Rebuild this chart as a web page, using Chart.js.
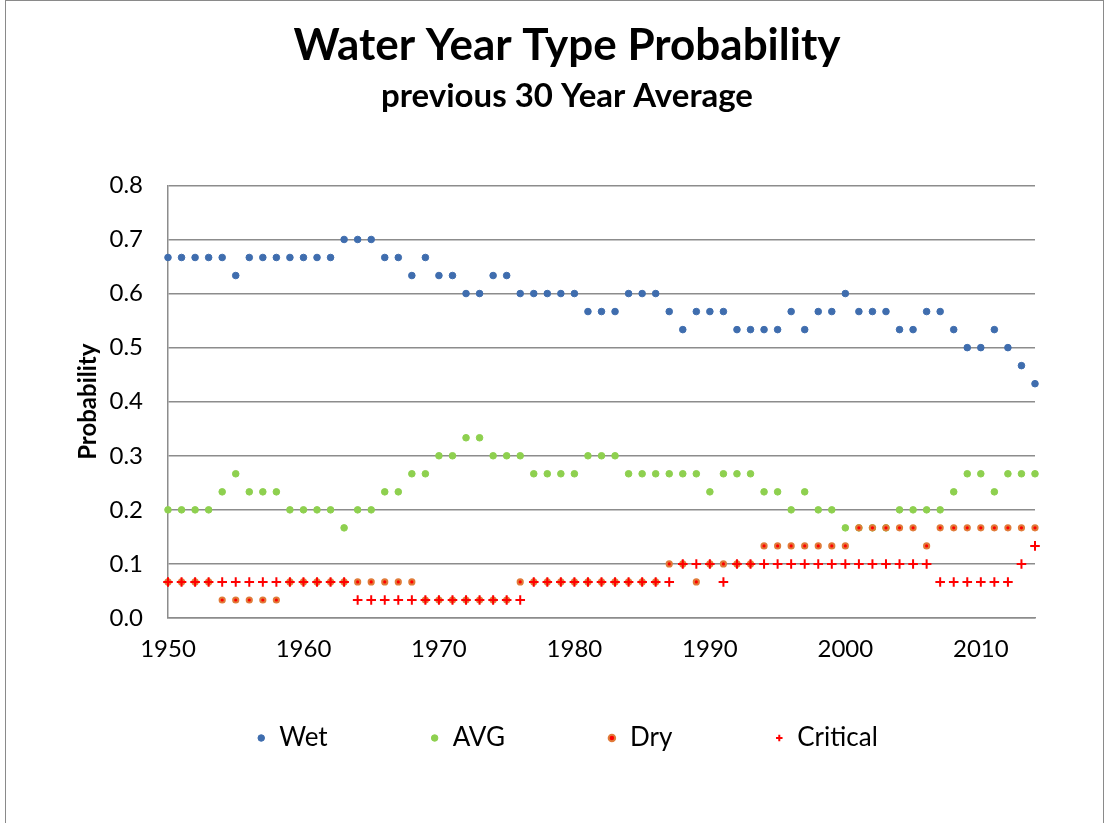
<!DOCTYPE html>
<html>
<head>
<meta charset="utf-8">
<script src="https://cdn.jsdelivr.net/npm/chart.js@4.4.1/dist/chart.umd.min.js"></script>
<style>
  html, body { margin: 0; padding: 0; background: #ffffff; overflow: hidden; }
  #wrap { position: absolute; left: 0; top: 0; width: 1110px; height: 823px; }
  #frame { position: absolute; left: 5px; top: 0px; width: 1099px; height: 900px;
           border-left: 1px solid #8a8a8a; border-right: 1px solid #8a8a8a; border-top: 1px solid #8a8a8a; box-sizing: border-box; pointer-events: none; }
</style>
</head>
<body>
<div id="wrap">
  <canvas id="c" width="1110" height="823"></canvas>
  <div id="frame"></div>
</div>
<script>
const years = [1950,1951,1952,1953,1954,1955,1956,1957,1958,1959,
               1960,1961,1962,1963,1964,1965,1966,1967,1968,1969,
               1970,1971,1972,1973,1974,1975,1976,1977,1978,1979,
               1980,1981,1982,1983,1984,1985,1986,1987,1988,1989,
               1990,1991,1992,1993,1994,1995,1996,1997,1998,1999,
               2000,2001,2002,2003,2004,2005,2006,2007,2008,2009,
               2010,2011,2012,2013,2014];

const wet = [0.6667,0.6667,0.6667,0.6667,0.6667,0.6333,0.6667,0.6667,0.6667,0.6667,
             0.6667,0.6667,0.6667,0.7000,0.7000,0.7000,0.6667,0.6667,0.6333,0.6667,
             0.6333,0.6333,0.6000,0.6000,0.6333,0.6333,0.6000,0.6000,0.6000,0.6000,
             0.6000,0.5667,0.5667,0.5667,0.6000,0.6000,0.6000,0.5667,0.5333,0.5667,
             0.5667,0.5667,0.5333,0.5333,0.5333,0.5333,0.5667,0.5333,0.5667,0.5667,
             0.6000,0.5667,0.5667,0.5667,0.5333,0.5333,0.5667,0.5667,0.5333,0.5000,
             0.5000,0.5333,0.5000,0.4667,0.4333];

const avg = [0.2000,0.2000,0.2000,0.2000,0.2333,0.2667,0.2333,0.2333,0.2333,0.2000,
             0.2000,0.2000,0.2000,0.1667,0.2000,0.2000,0.2333,0.2333,0.2667,0.2667,
             0.3000,0.3000,0.3333,0.3333,0.3000,0.3000,0.3000,0.2667,0.2667,0.2667,
             0.2667,0.3000,0.3000,0.3000,0.2667,0.2667,0.2667,0.2667,0.2667,0.2667,
             0.2333,0.2667,0.2667,0.2667,0.2333,0.2333,0.2000,0.2333,0.2000,0.2000,
             0.1667,0.1667,0.1667,0.1667,0.2000,0.2000,0.2000,0.2000,0.2333,0.2667,
             0.2667,0.2333,0.2667,0.2667,0.2667];

const dry = [0.0667,0.0667,0.0667,0.0667,0.0333,0.0333,0.0333,0.0333,0.0333,0.0667,
             0.0667,0.0667,0.0667,0.0667,0.0667,0.0667,0.0667,0.0667,0.0667,0.0333,
             0.0333,0.0333,0.0333,0.0333,0.0333,0.0333,0.0667,0.0667,0.0667,0.0667,
             0.0667,0.0667,0.0667,0.0667,0.0667,0.0667,0.0667,0.1000,0.1000,0.0667,
             0.1000,0.1000,0.1000,0.1000,0.1333,0.1333,0.1333,0.1333,0.1333,0.1333,
             0.1333,0.1667,0.1667,0.1667,0.1667,0.1667,0.1333,0.1667,0.1667,0.1667,
             0.1667,0.1667,0.1667,0.1667,0.1667];

const critical = [0.0667,0.0667,0.0667,0.0667,0.0667,0.0667,0.0667,0.0667,0.0667,0.0667,
                  0.0667,0.0667,0.0667,0.0667,0.0333,0.0333,0.0333,0.0333,0.0333,0.0333,
                  0.0333,0.0333,0.0333,0.0333,0.0333,0.0333,0.0333,0.0667,0.0667,0.0667,
                  0.0667,0.0667,0.0667,0.0667,0.0667,0.0667,0.0667,0.0667,0.1000,0.1000,
                  0.1000,0.0667,0.1000,0.1000,0.1000,0.1000,0.1000,0.1000,0.1000,0.1000,
                  0.1000,0.1000,0.1000,0.1000,0.1000,0.1000,0.1000,0.0667,0.0667,0.0667,
                  0.0667,0.0667,0.0667,0.1000,0.1333];

const seriesNames = ['Wet', 'AVG', 'Dry', 'Critical'];
const xTickLabels = [1950, 1960, 1970, 1980, 1990, 2000, 2010];
const yTickLabels = ['0.0','0.1','0.2','0.3','0.4','0.5','0.6','0.7','0.8'];

const FONT = 'Lato, "Open Sans", sans-serif';
const GRID = '#8c8c8c';
const LEGEND_FONT = 26;
const LEGEND_PAD = 102;
const LEGEND_CENTER_Y = 738;

function pts(vals) { return years.map((yr, i) => ({ x: yr, y: vals[i] })); }

// moves the (built-in) legend so its row sits where the reference draws it
const legendShift = {
  id: 'legendShift',
  afterLayout(chart) {
    const lg = chart.legend;
    if (!lg) return;
    const h = lg.height;
    lg.top = LEGEND_CENTER_Y - LEGEND_FONT / 2 - LEGEND_PAD;
    lg.bottom = lg.top + h;
  }
};

const ctx = document.getElementById('c').getContext('2d');
new Chart(ctx, {
  type: 'scatter',
  data: {
    datasets: [
      { label: seriesNames[0], data: pts(wet), order: 4, pointStyle: 'circle', pointRadius: 3.3,
        backgroundColor: '#3F6DAE', borderColor: '#3F6DAE', borderWidth: 1, clip: false },
      { label: seriesNames[1], data: pts(avg), order: 3, pointStyle: 'circle', pointRadius: 3.3,
        backgroundColor: '#8ED04F', borderColor: '#8ED04F', borderWidth: 1, clip: false },
      { label: seriesNames[2], data: pts(dry), order: 2, pointStyle: 'circle', pointRadius: 2.6,
        backgroundColor: '#FF0000', borderColor: '#E07B39', borderWidth: 2, clip: false },
      { label: seriesNames[3], data: pts(critical), order: 1, pointStyle: 'cross', pointRadius: 4.8,
        backgroundColor: '#FF0000', borderColor: '#FF0000', borderWidth: 2, clip: false }
    ]
  },
  plugins: [legendShift],
  options: {
    responsive: false,
    animation: false,
    events: [],
    layout: { padding: { left: 24, right: 0, top: 0, bottom: 17 } },
    plugins: {
      tooltip: { enabled: false },
      title: {
        display: true,
        text: 'Water Year Type Probability',
        color: '#000000',
        font: { family: FONT, size: 44, weight: 'bold' },
        padding: { top: 19, bottom: 0 }
      },
      subtitle: {
        display: true,
        text: 'previous 30 Year Average',
        color: '#000000',
        font: { family: FONT, size: 33, weight: 'bold' },
        padding: { top: 5, bottom: 69 }
      },
      legend: {
        display: true,
        position: 'bottom',
        labels: {
          usePointStyle: true,
          boxWidth: 10,
          boxHeight: 4.6,
          padding: LEGEND_PAD,
          color: '#000000',
          font: { family: FONT, size: LEGEND_FONT },
          sort: (a, b) => a.datasetIndex - b.datasetIndex
        }
      }
    },
    scales: {
      x: {
        type: 'linear',
        min: 1950,
        max: 2014,
        afterBuildTicks: (s) => { s.ticks = xTickLabels.map(v => ({ value: v })); },
        afterFit: (s) => { s.height = 50; },
        ticks: { color: '#000000', font: { family: FONT, size: 24 }, padding: 17, maxRotation: 0, autoSkip: false,
                 callback: (v) => String(v) },
        grid: { display: false, drawTicks: false },
        border: { display: true, color: GRID, width: 1.5 }
      },
      y: {
        min: 0,
        max: 0.8,
        afterBuildTicks: (s) => { s.ticks = yTickLabels.map(t => ({ value: parseFloat(t) })); },
        afterFit: (s) => { s.width = 144; },
        ticks: { color: '#000000', font: { family: FONT, size: 24 }, padding: 25,
                 callback: (v) => Number(v).toFixed(1) },
        grid: { color: GRID, lineWidth: 1.5, drawTicks: false },
        border: { display: true, color: GRID, width: 1.5 },
        title: { display: true, text: 'Probability', color: '#000000',
                 font: { family: FONT, size: 24, weight: 'bold' }, padding: { top: 50, bottom: 0 } }
      },
      y2: {
        position: 'right',
        display: true,
        afterFit: (s) => { s.width = 75; },
        ticks: { display: false },
        grid: { display: false, drawTicks: false },
        border: { display: false }
      }
    }
  }
});
</script>
</body>
</html>
